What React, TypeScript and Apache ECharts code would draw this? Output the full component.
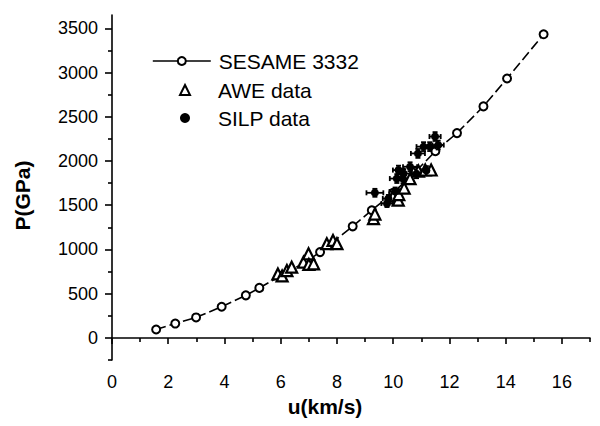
import React, { useEffect, useRef } from "react";
import * as echarts from "echarts";

const xMajorTicks = [0, 2, 4, 6, 8, 10, 12, 14, 16];
const xMinorTicks = [1, 3, 5, 7, 9, 11, 13, 15, 17];
const yMajorTicks = [0, 500, 1000, 1500, 2000, 2500, 3000, 3500];
const yMinorTicks = [-250, 250, 750, 1250, 1750, 2250, 2750, 3250];

// SESAME 3332 Hugoniot: [u (km/s), P (GPa)]
const sesame: number[][] = [
  [1.57, 95], [2.25, 162], [2.99, 231], [3.9, 352], [4.76, 481], [5.24, 565],
  [6.0, 700], [6.97, 875], [7.4, 970], [8.56, 1261], [9.24, 1443],
  [10.0, 1640], [10.8, 1880], [11.5, 2110], [12.27, 2315], [13.21, 2617],
  [14.05, 2932], [15.35, 3432],
];

// AWE data: [u, P]
const awe: number[][] = [
  [5.9, 723], [6.05, 700], [6.22, 761], [6.39, 799], [6.81, 856], [6.99, 951],
  [7.0, 830], [7.17, 837], [7.64, 1065], [7.86, 1102], [8.0, 1065],
  [9.3, 1349], [9.35, 1400], [10.0, 1602], [10.18, 1557], [10.2, 1620],
  [10.39, 1693], [10.6, 1800], [10.9, 1886], [11.14, 1898], [11.35, 1898],
];

// SILP data: [u, P, du, dP]
const silp: number[][] = [
  [9.35, 1640, 0.3, 45], [9.78, 1519, 0.2, 40], [9.83, 1576, 0.2, 40],
  [10.07, 1655, 0.2, 45], [10.13, 1801, 0.25, 50], [10.19, 1897, 0.2, 50],
  [10.35, 1798, 0.25, 50], [10.37, 1858, 0.25, 50], [10.6, 1935, 0.25, 50],
  [10.83, 1855, 0.2, 50], [10.88, 2085, 0.25, 50], [11.08, 2162, 0.25, 50],
  [11.18, 1892, 0.2, 50], [11.3, 2162, 0.2, 50], [11.49, 2276, 0.2, 50],
  [11.6, 2180, 0.2, 50],
];

const FONT = "Arial, 'Liberation Sans', sans-serif";

export default function App() {
  const ref = useRef<HTMLDivElement>(null);

  useEffect(() => {
    if (!ref.current) return;
    const chart = echarts.init(ref.current, null, { renderer: "svg" });

    const axisLine = { show: true, lineStyle: { color: "#000", width: 1.6 } };
    const legendText = { fontSize: 21, fontFamily: FONT, color: "#000", lineHeight: 22 };

    chart.setOption({
      animation: false,
      backgroundColor: "#fff",
      grid: { left: 112, right: 10, top: 15, bottom: 66, containLabel: false },
      legend: [
        {
          orient: "vertical",
          left: 152,
          top: 50,
          padding: 0,
          itemWidth: 58,
          itemHeight: 10,
          lineStyle: { type: "solid", width: 1.6, color: "#000" },
          textStyle: { ...legendText, padding: [0, 0, 0, 3] },
          data: ["SESAME 3332"],
        },
        {
          orient: "vertical",
          left: 179,
          top: 79,
          padding: 0,
          itemWidth: 10,
          itemHeight: 10,
          itemGap: 6,
          textStyle: { ...legendText, padding: [0, 0, 0, 23] },
          data: ["AWE data", "SILP data"],
        },
      ],
      xAxis: [
        {
          type: "value",
          min: 0,
          max: 17,
          position: "bottom",
          axisLine,
          axisTick: { customValues: xMajorTicks, length: 6, lineStyle: { color: "#000", width: 1.6 } },
          axisLabel: { customValues: xMajorTicks, fontSize: 18, fontFamily: FONT, color: "#000", margin: 13 },
          splitLine: { show: false },
          name: "u(km/s)",
          nameLocation: "middle",
          nameGap: 36,
          nameTextStyle: { fontSize: 21, fontWeight: "bold", fontFamily: FONT, color: "#000", padding: [0, 52, 0, 0] },
        },
        {
          type: "value",
          min: 0,
          max: 17,
          position: "bottom",
          axisLine: { show: false },
          axisTick: { customValues: xMinorTicks, length: 4, lineStyle: { color: "#000", width: 1.6 } },
          axisLabel: { show: false },
          splitLine: { show: false },
        },
      ],
      yAxis: [
        {
          type: "value",
          min: -250,
          max: 3650,
          position: "left",
          axisLine,
          axisTick: { customValues: yMajorTicks, length: 7, lineStyle: { color: "#000", width: 1.6 } },
          axisLabel: {
            customValues: yMajorTicks,
            fontSize: 18,
            fontFamily: FONT,
            color: "#000",
            margin: 14,
            formatter: (v: number) => String(v),
          },
          splitLine: { show: false },
          name: "P(GPa)",
          nameLocation: "middle",
          nameGap: 79,
          nameTextStyle: { fontSize: 21, fontWeight: "bold", fontFamily: FONT, color: "#000", padding: [0, 16, 0, 0] },
        },
        {
          type: "value",
          min: -250,
          max: 3650,
          position: "left",
          axisLine: { show: false },
          axisTick: { customValues: yMinorTicks, length: 4, lineStyle: { color: "#000", width: 1.6 } },
          axisLabel: { show: false },
          splitLine: { show: false },
        },
      ],
      series: [
        {
          name: "SESAME 3332",
          type: "line",
          xAxisIndex: 0,
          yAxisIndex: 0,
          data: sesame,
          symbol: "circle",
          symbolSize: 8,
          lineStyle: { color: "#000", width: 1.6, type: [10, 4] },
          itemStyle: { color: "#fff", borderColor: "#000", borderWidth: 2, opacity: 1 },
          z: 2,
        },
        {
          name: "SILP errors",
          type: "custom",
          xAxisIndex: 0,
          yAxisIndex: 0,
          data: silp,
          renderItem: (params: any, api: any) => {
            const x = api.value(0), y = api.value(1), dx = api.value(2), dy = api.value(3);
            const l = api.coord([x - dx, y]);
            const r = api.coord([x + dx, y]);
            const b = api.coord([x, y - dy]);
            const t = api.coord([x, y + dy]);
            const st = { stroke: "#000", lineWidth: 1.8 };
            const c = 2.5;
            return {
              type: "group",
              children: [
                { type: "line", shape: { x1: l[0], y1: l[1], x2: r[0], y2: r[1] }, style: st },
                { type: "line", shape: { x1: b[0], y1: b[1], x2: t[0], y2: t[1] }, style: st },
                { type: "line", shape: { x1: l[0], y1: l[1] - c, x2: l[0], y2: l[1] + c }, style: st },
                { type: "line", shape: { x1: r[0], y1: r[1] - c, x2: r[0], y2: r[1] + c }, style: st },
                { type: "line", shape: { x1: b[0] - c, y1: b[1], x2: b[0] + c, y2: b[1] }, style: st },
                { type: "line", shape: { x1: t[0] - c, y1: t[1], x2: t[0] + c, y2: t[1] }, style: st },
              ],
            };
          },
          z: 3,
        },
        {
          name: "AWE data",
          type: "scatter",
          xAxisIndex: 0,
          yAxisIndex: 0,
          data: awe,
          symbol: "triangle",
          symbolSize: 11,
          itemStyle: { color: "#fff", borderColor: "#000", borderWidth: 2.2, opacity: 1 },
          z: 4,
        },
        {
          name: "SILP data",
          type: "scatter",
          xAxisIndex: 0,
          yAxisIndex: 0,
          data: silp.map((d) => [d[0], d[1]]),
          symbol: "circle",
          symbolSize: 8,
          itemStyle: { color: "#000", opacity: 1 },
          z: 5,
        },
      ],
    });

    return () => chart.dispose();
  }, []);

  return <div ref={ref} style={{ width: 600, height: 426, position: "absolute", left: 0, top: 0 }} />;
}
